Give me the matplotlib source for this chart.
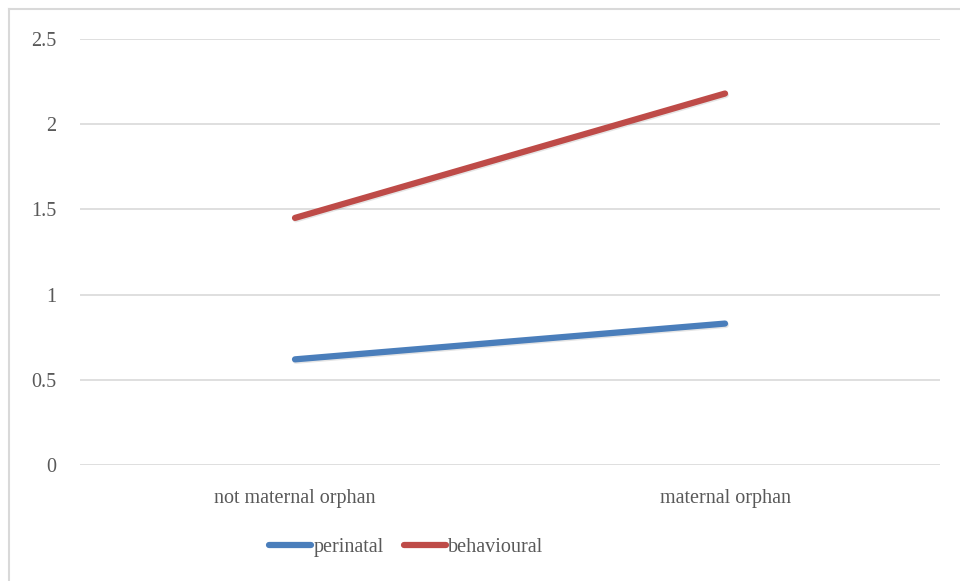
import matplotlib.pyplot as plt
from matplotlib.lines import Line2D
import matplotlib.patheffects as pe

categories = ["not maternal orphan", "maternal orphan"]
perinatal = [0.62, 0.83]
behavioural = [1.45, 2.18]
yticks = [0, 0.5, 1, 1.5, 2, 2.5]
ytick_labels = ["0", "0.5", "1", "1.5", "2", "2.5"]

plt.rcParams['font.family'] = ['Liberation Serif', 'DejaVu Serif']
text_color = '#595959'
fs = 14.5

fig = plt.figure(figsize=(9.6, 5.81), dpi=100)
ax = fig.add_axes([80/960, 1 - 465/581, 860/960, (465 - 39)/581])

shadow = [pe.SimpleLineShadow(offset=(0.6, -1.0), alpha=0.1), pe.Normal()]
x = list(range(len(categories)))
ax.plot(x, perinatal, color='#4a7ebb', lw=4.5, solid_capstyle='round', label='perinatal',
        path_effects=shadow)
ax.plot(x, behavioural, color='#be4b48', lw=4.5, solid_capstyle='round', label='behavioural',
        path_effects=shadow)

ax.set_xlim(-0.5, 1.5)
ax.set_ylim(0, 2.5)
ax.set_yticks(yticks)
ax.set_yticklabels(ytick_labels)
ax.set_xticks(x)
ax.set_xticklabels(categories)
ax.tick_params(axis='both', length=0, labelsize=fs, colors=text_color)
ax.tick_params(axis='y', pad=17)
ax.tick_params(axis='x', pad=17)
ax.grid(axis='y', color='#d9d9d9', lw=1.2)
ax.set_axisbelow(True)
for s in ax.spines.values():
    s.set_visible(False)

leg = fig.legend(loc='center', bbox_to_anchor=(406/960, 1 - 547/581), ncol=2, frameon=False,
                 fontsize=fs, handlelength=2.1, handletextpad=0.1, columnspacing=1.0)
for t in leg.get_texts():
    t.set_color(text_color)
for h in leg.legend_handles:
    h.set_path_effects([])

# chart border (only left and top visible in the crop)
fig.add_artist(Line2D([8.5/960, 8.5/960], [0, 1 - 9/581], transform=fig.transFigure,
                      color='#d9d9d9', lw=1.5))
fig.add_artist(Line2D([8.5/960, 1], [1 - 9/581, 1 - 9/581], transform=fig.transFigure,
                      color='#d9d9d9', lw=1.5))

fig.savefig('out.png', dpi=100)
